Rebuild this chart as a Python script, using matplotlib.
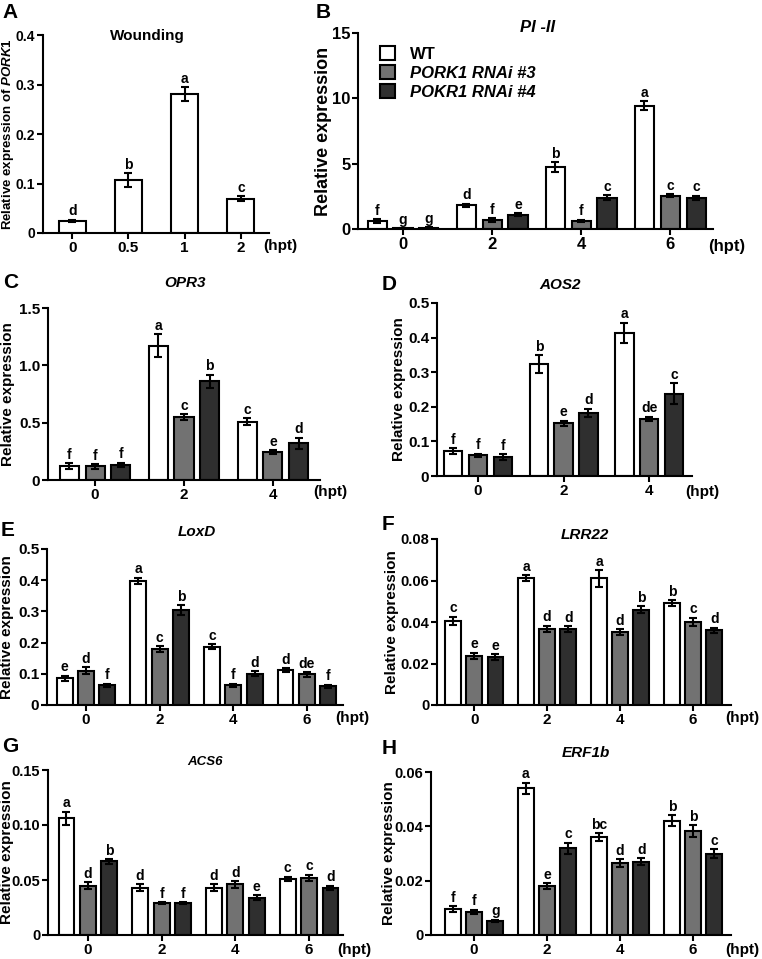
import numpy as np
import matplotlib
matplotlib.use("Agg")
import matplotlib.pyplot as plt

plt.rcParams['font.family'] = ['Liberation Sans', 'DejaVu Sans']
plt.rcParams['font.weight'] = 'bold'
plt.rcParams['mathtext.fontset'] = 'custom'
plt.rcParams['mathtext.it'] = 'Liberation Sans:italic:bold'
plt.rcParams['mathtext.rm'] = 'Liberation Sans:bold'
plt.rcParams['axes.linewidth'] = 1.5

# ---------------- data ----------------
series = ["WT", "PORK1 RNAi #3", "POKR1 RNAi #4"]
colors = ["#ffffff", "#727272", "#2f2f2f"]

# A: wounding time course of PORK1
a_cats = ["0", "0.5", "1", "2"]
a_vals = [0.025, 0.107, 0.281, 0.069]
a_errs = [0.002, 0.014, 0.014, 0.005]
a_lets = ["d", "b", "a", "c"]

hpt4 = ["0", "2", "4", "6"]
hpt3 = ["0", "2", "4"]

# B: PI-II
b_wt = [0.6, 1.8, 4.75, 9.45]
b_wt_err = [0.15, 0.15, 0.35, 0.35]
b_r3 = [0.05, 0.7, 0.6, 2.55]
b_r3_err = [0.02, 0.15, 0.1, 0.12]
b_r4 = [0.1, 1.1, 2.4, 2.4]
b_r4_err = [0.02, 0.1, 0.2, 0.15]
b_lets = [["f", "d", "b", "a"], ["g", "f", "f", "c"], ["g", "e", "c", "c"]]

# C: OPR3
c_wt = [0.12, 1.17, 0.51]
c_wt_err = [0.025, 0.1, 0.03]
c_r3 = [0.12, 0.55, 0.245]
c_r3_err = [0.02, 0.025, 0.015]
c_r4 = [0.13, 0.86, 0.32]
c_r4_err = [0.02, 0.06, 0.05]
c_lets = [["f", "a", "c"], ["f", "c", "e"], ["f", "b", "d"]]

# D: AOS2
d_wt = [0.072, 0.324, 0.413]
d_wt_err = [0.008, 0.025, 0.03]
d_r3 = [0.06, 0.152, 0.165]
d_r3_err = [0.005, 0.008, 0.006]
d_r4 = [0.055, 0.183, 0.238]
d_r4_err = [0.008, 0.012, 0.03]
d_lets = [["f", "b", "a"], ["f", "e", "de"], ["f", "d", "c"]]

# E: LoxD
e_wt = [0.086, 0.398, 0.186, 0.111]
e_wt_err = [0.008, 0.01, 0.008, 0.006]
e_r3 = [0.11, 0.179, 0.063, 0.098]
e_r3_err = [0.012, 0.01, 0.005, 0.007]
e_r4 = [0.063, 0.304, 0.10, 0.06]
e_r4_err = [0.005, 0.015, 0.008, 0.005]
e_lets = [["e", "a", "c", "d"], ["d", "c", "f", "de"], ["f", "b", "d", "f"]]

# F: LRR22
f_wt = [0.0405, 0.0612, 0.061, 0.049]
f_wt_err = [0.002, 0.0015, 0.004, 0.0015]
f_r3 = [0.0238, 0.0368, 0.035, 0.040]
f_r3_err = [0.0015, 0.0015, 0.0015, 0.002]
f_r4 = [0.023, 0.0365, 0.046, 0.036]
f_r4_err = [0.0015, 0.0015, 0.0015, 0.0012]
f_lets = [["c", "a", "a", "b"], ["e", "d", "d", "c"], ["e", "d", "b", "d"]]

# G: ACS6
g_wt = [0.106, 0.043, 0.043, 0.051]
g_wt_err = [0.006, 0.003, 0.003, 0.002]
g_r3 = [0.045, 0.029, 0.046, 0.052]
g_r3_err = [0.003, 0.001, 0.003, 0.003]
g_r4 = [0.067, 0.029, 0.034, 0.043]
g_r4_err = [0.002, 0.001, 0.002, 0.002]
g_lets = [["a", "d", "d", "c"], ["d", "f", "d", "c"], ["b", "f", "e", "d"]]

# H: ERF1b
h_wt = [0.0095, 0.054, 0.036, 0.042]
h_wt_err = [0.001, 0.002, 0.0015, 0.002]
h_r3 = [0.0086, 0.018, 0.0265, 0.0383]
h_r3_err = [0.0007, 0.001, 0.0015, 0.0022]
h_r4 = [0.0052, 0.032, 0.027, 0.030]
h_r4_err = [0.0004, 0.002, 0.0013, 0.0015]
h_lets = [["f", "a", "bc", "b"], ["f", "e", "d", "b"], ["g", "c", "d", "c"]]

# ---------------- figure ----------------
W, H = 762, 959
fig = plt.figure(figsize=(W / 100, H / 100), dpi=100)


def px_axes(l, t, r, b):
    return fig.add_axes([l / W, 1 - b / H, (r - l) / W, (b - t) / H])


def ftext(x, y, s, **kw):
    fig.text(x / W, 1 - y / H, s, **kw)


def style(ax, cats, xlim, yticks, ylabels, fs, ylab, ylab_px, l, r, lab_fs, yfs=None):
    ax.spines['top'].set_visible(False)
    ax.spines['right'].set_visible(False)
    ax.set_xticks(np.arange(len(cats)))
    ax.set_xticklabels(cats, fontsize=fs, fontweight='bold')
    ax.set_yticks(yticks)
    ax.set_yticklabels(ylabels, fontsize=yfs or fs, fontweight='bold')
    ax.set_xlim(*xlim)
    ax.set_ylim(yticks[0], yticks[-1])
    ax.tick_params(direction='out', length=4, width=1.5, pad=2)
    ax.tick_params(axis='y', pad=1.5)
    ax.set_ylabel(ylab, fontsize=lab_fs, fontweight='bold', va='center')
    ax.yaxis.set_label_coords((ylab_px - l) / (r - l), 0.5)


def grouped(ax, cats, vals, errs, lets):
    x = np.arange(len(cats))
    offs = [-0.29, 0.0, 0.29]
    conts = []
    for k in range(3):
        xs = x + offs[k]
        c = ax.bar(xs, vals[k], width=0.215, color=colors[k], edgecolor='black',
                   linewidth=1.5, zorder=2)
        ax.errorbar(xs, vals[k], yerr=errs[k], fmt='none', ecolor='black',
                    elinewidth=1.5, capsize=3, capthick=1.5, zorder=3)
        for xi, v, e, lt in zip(xs, vals[k], errs[k], lets[k]):
            ax.annotate(lt, (xi, v + e), xytext=(0, 1), textcoords='offset points',
                        ha='center', va='bottom', fontsize=10, fontweight='bold')
        conts.append(c)
    return conts


# Panel A
L, T, R, B = 43, 35, 269, 233
axA = px_axes(L, T, R, B)
xa = np.arange(len(a_cats))
axA.bar(xa, a_vals, width=0.48, color=colors[0], edgecolor='black', linewidth=1.5, zorder=2)
axA.errorbar(xa, a_vals, yerr=a_errs, fmt='none', ecolor='black', elinewidth=1.5,
             capsize=3, capthick=1.5, zorder=3)
for xi, v, e, lt in zip(xa, a_vals, a_errs, a_lets):
    axA.annotate(lt, (xi, v + e), xytext=(0, 1), textcoords='offset points',
                 ha='center', va='bottom', fontsize=10, fontweight='bold')
style(axA, a_cats, (-0.52, 3.5), [0, 0.1, 0.2, 0.3, 0.4], ["0", "0.1", "0.2", "0.3", "0.4"],
      11, r"Relative expression of $\mathit{PORK1}$", 8, L, R, 9.5, 10)
ftext(147, 36, "Wounding", ha='center', va='center', fontsize=11, fontweight='bold')
ftext(263, 246, "(hpt)", ha='left', va='center', fontsize=11, fontweight='bold')
ftext(2, 12, "A", ha='left', va='center', fontsize=15, fontweight='bold')

# Panel B
L, T, R, B = 358, 33, 713, 229
axB = px_axes(L, T, R, B)
conts = grouped(axB, hpt4, [b_wt, b_r3, b_r4], [b_wt_err, b_r3_err, b_r4_err], b_lets)
style(axB, hpt4, (-0.506, 3.48), [0, 5, 10, 15], ["0", "5", "10", "15"],
      12, "Relative expression", 324, L, R, 13)
leg = axB.legend(conts, series, loc='upper left', bbox_to_anchor=(0.062, 0.934),
                 frameon=False, fontsize=12, handlelength=0.9, handleheight=0.9,
                 labelspacing=0.2, handletextpad=0.9, borderpad=0, borderaxespad=0)
for i, t in enumerate(leg.get_texts()):
    t.set_fontweight('bold')
    if i > 0:
        t.set_fontstyle('italic')
ftext(538, 28, "PI -II", ha='center', va='center', fontsize=12, fontweight='bold', fontstyle='italic')
ftext(708, 247, "(hpt)", ha='left', va='center', fontsize=12, fontweight='bold')
ftext(316, 12, "B", ha='left', va='center', fontsize=15, fontweight='bold')

# Panel C
L, T, R, B = 48, 308, 320, 480
axC = px_axes(L, T, R, B)
grouped(axC, hpt3, [c_wt, c_r3, c_r4], [c_wt_err, c_r3_err, c_r4_err], c_lets)
style(axC, hpt3, (-0.53, 2.53), [0, 0.5, 1.0, 1.5], ["0", "0.5", "1.0", "1.5"],
      11, "Relative expression", 8, L, R, 11)
ftext(185, 283, "OPR3", ha='center', va='center', fontsize=11, fontweight='bold', fontstyle='italic')
ftext(313, 492, "(hpt)", ha='left', va='center', fontsize=11, fontweight='bold')
ftext(3, 283, "C", ha='left', va='center', fontsize=15, fontweight='bold')

# Panel D
L, T, R, B = 437, 303, 692, 476
axD = px_axes(L, T, R, B)
grouped(axD, hpt3, [d_wt, d_r3, d_r4], [d_wt_err, d_r3_err, d_r4_err], d_lets)
style(axD, hpt3, (-0.48, 2.5), [0, 0.1, 0.2, 0.3, 0.4, 0.5],
      ["0", "0.1", "0.2", "0.3", "0.4", "0.5"], 11, "Relative expression", 399, L, R, 11)
ftext(560, 285, "AOS2", ha='center', va='center', fontsize=11, fontweight='bold', fontstyle='italic')
ftext(685, 492, "(hpt)", ha='left', va='center', fontsize=11, fontweight='bold')
ftext(382, 285, "D", ha='left', va='center', fontsize=15, fontweight='bold')

# Panel E
L, T, R, B = 47, 549, 343, 705
axE = px_axes(L, T, R, B)
grouped(axE, hpt4, [e_wt, e_r3, e_r4], [e_wt_err, e_r3_err, e_r4_err], e_lets)
style(axE, hpt4, (-0.53, 3.49), [0, 0.1, 0.2, 0.3, 0.4, 0.5],
      ["0", "0.1", "0.2", "0.3", "0.4", "0.5"], 11, "Relative expression", 7, L, R, 11)
ftext(197, 532, "LoxD", ha='center', va='center', fontsize=11, fontweight='bold', fontstyle='italic')
ftext(335, 718, "(hpt)", ha='left', va='center', fontsize=11, fontweight='bold')
ftext(1, 530, "E", ha='left', va='center', fontsize=15, fontweight='bold')

# Panel F
L, T, R, B = 437, 539, 731, 705
axF = px_axes(L, T, R, B)
grouped(axF, hpt4, [f_wt, f_r3, f_r4], [f_wt_err, f_r3_err, f_r4_err], f_lets)
style(axF, hpt4, (-0.51, 3.52), [0, 0.02, 0.04, 0.06, 0.08],
      ["0", "0.02", "0.04", "0.06", "0.08"], 11, "Relative expression", 392, L, R, 11, 10.5)
ftext(585, 535, "LRR22", ha='center', va='center', fontsize=11, fontweight='bold', fontstyle='italic')
ftext(725, 718, "(hpt)", ha='left', va='center', fontsize=11, fontweight='bold')
ftext(382, 524, "F", ha='left', va='center', fontsize=15, fontweight='bold')

# Panel G
L, T, R, B = 48, 770, 343, 935
axG = px_axes(L, T, R, B)
grouped(axG, hpt4, [g_wt, g_r3, g_r4], [g_wt_err, g_r3_err, g_r4_err], g_lets)
style(axG, hpt4, (-0.54, 3.46), [0, 0.05, 0.10, 0.15],
      ["0", "0.05", "0.10", "0.15"], 11, "Relative expression", 7, L, R, 11, 10.5)
ftext(205, 762, "ACS6", ha='center', va='center', fontsize=9.5, fontweight='bold', fontstyle='italic')
ftext(337, 950, "(hpt)", ha='left', va='center', fontsize=11, fontweight='bold')
ftext(2, 747, "G", ha='left', va='center', fontsize=15, fontweight='bold')

# Panel H
L, T, R, B = 431, 772, 731, 935
axH = px_axes(L, T, R, B)
grouped(axH, hpt4, [h_wt, h_r3, h_r4], [h_wt_err, h_r3_err, h_r4_err], h_lets)
style(axH, hpt4, (-0.59, 3.52), [0, 0.02, 0.04, 0.06],
      ["0", "0.02", "0.04", "0.06"], 11, "Relative expression", 389, L, R, 11, 10.5)
ftext(586, 753, "ERF1b", ha='center', va='center', fontsize=11, fontweight='bold', fontstyle='italic')
ftext(725, 950, "(hpt)", ha='left', va='center', fontsize=11, fontweight='bold')
ftext(382, 749, "H", ha='left', va='center', fontsize=15, fontweight='bold')

fig.savefig("out.png", dpi=100)
